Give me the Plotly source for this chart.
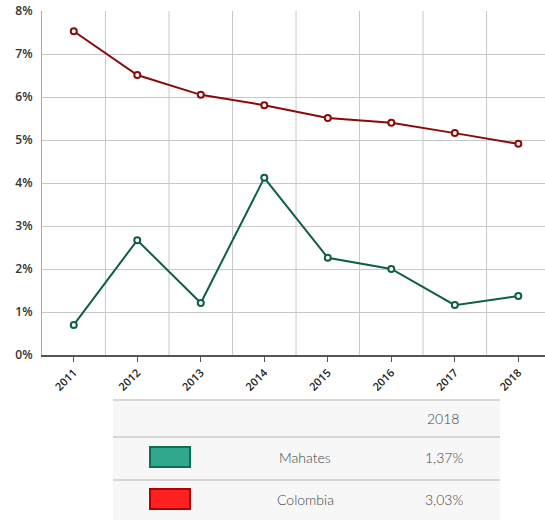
import plotly.graph_objects as go

years = ["2011", "2012", "2013", "2014", "2015", "2016", "2017", "2018"]
mahates = [0.70, 2.67, 1.21, 4.12, 2.26, 2.00, 1.16, 1.37]
colombia = [7.53, 6.51, 6.05, 5.81, 5.51, 5.40, 5.16, 4.91]
y_ticks = [0, 1, 2, 3, 4, 5, 6, 7, 8]
y_tick_labels = ["0%", "1%", "2%", "3%", "4%", "5%", "6%", "7%", "8%"]
table_header = "2018"
table_names = ["Mahates", "Colombia"]
table_values = ["1,37%", "3,03%"]
swatch_fill = ["#2fa88e", "#ff2121"]
swatch_line = ["#0e6e55", "#b00000"]
line_colors = ["#0d5e4a", "#8a0a0a"]

W, H = 545, 521
L, R, T, B = 42, 0, 11, 521 - 355
ph = H - T - B
pw = W - L - R

def py(p):
    return (H - B - p) / ph

def px(p):
    return (p - L) / pw

fig = go.Figure()
for name, vals, col in [("Colombia", colombia, line_colors[1]), ("Mahates", mahates, line_colors[0])]:
    fig.add_trace(go.Scatter(
        x=list(range(len(years))), y=vals, mode="lines+markers", name=name,
        line=dict(color=col, width=2),
        marker=dict(symbol="circle", size=6, color="white", line=dict(color=col, width=2)),
        showlegend=False, cliponaxis=False,
    ))

shapes = []
for i in range(len(years)):
    shapes.append(dict(type="line", xref="x", yref="paper", x0=i + 0.5, x1=i + 0.5, y0=0, y1=1,
                       line=dict(color="#c8c8c8", width=1), layer="below"))

tx0, tx1 = px(113), px(500)
shapes.append(dict(type="rect", xref="paper", yref="paper", x0=tx0, x1=tx1, y0=py(520), y1=py(400),
                   fillcolor="#f7f7f7", line=dict(width=0), layer="below"))
shapes.append(dict(type="line", xref="paper", yref="paper", x0=tx0, x1=tx1, y0=py(400), y1=py(400),
                   line=dict(color="#d8d8d8", width=2)))
for yy in [437, 480]:
    shapes.append(dict(type="line", xref="paper", yref="paper", x0=tx0, x1=tx1, y0=py(yy), y1=py(yy),
                       line=dict(color="#b5b5b5", width=1)))
row_centers = [457, 499]
for i, yc in enumerate(row_centers):
    shapes.append(dict(type="rect", xref="paper", yref="paper", x0=px(150), x1=px(190),
                       y0=py(yc + 10), y1=py(yc - 10), fillcolor=swatch_fill[i],
                       line=dict(color=swatch_line[i], width=2)))

tfont = dict(family="Lato, sans-serif", size=14, color="#444", weight=300)
annotations = [dict(xref="paper", yref="paper", x=px(443), y=py(418), text=table_header, showarrow=False,
                    xanchor="center", yanchor="middle", font=tfont)]
for i, yc in enumerate(row_centers):
    annotations.append(dict(xref="paper", yref="paper", x=px(305), y=py(yc), text=table_names[i],
                            xanchor="center", yanchor="middle", showarrow=False, font=tfont))
    annotations.append(dict(xref="paper", yref="paper", x=px(444), y=py(yc), text=table_values[i],
                            xanchor="center", yanchor="middle", showarrow=False, font=tfont))

fig.update_layout(
    width=W, height=H, margin=dict(l=L, r=R, t=T, b=B, pad=0),
    paper_bgcolor="white", plot_bgcolor="white",
    shapes=shapes, annotations=annotations,
    xaxis=dict(range=[-0.5, 7.42], tickmode="array", tickvals=list(range(len(years))), ticktext=years,
               tickangle=-45, showgrid=False, zeroline=False, showline=True, linecolor="#555", linewidth=2,
               ticks="outside", ticklen=5, tickcolor="#555", automargin=False,
               tickfont=dict(family="Open Sans", size=11, color="#222", weight=600)),
    yaxis=dict(range=[0, 8], tickmode="array", tickvals=y_ticks, ticktext=y_tick_labels,
               showgrid=True, gridcolor="#c8c8c8", gridwidth=1, zeroline=False, automargin=False,
               showline=True, linecolor="#aaa", linewidth=1, ticks="", ticklabelstandoff=6,
               tickfont=dict(family="Open Sans", size=12, color="#333", weight=600)),
)
fig.write_html("out.html", config={"displayModeBar": False},
               post_script="document.body.style.margin='0';")
